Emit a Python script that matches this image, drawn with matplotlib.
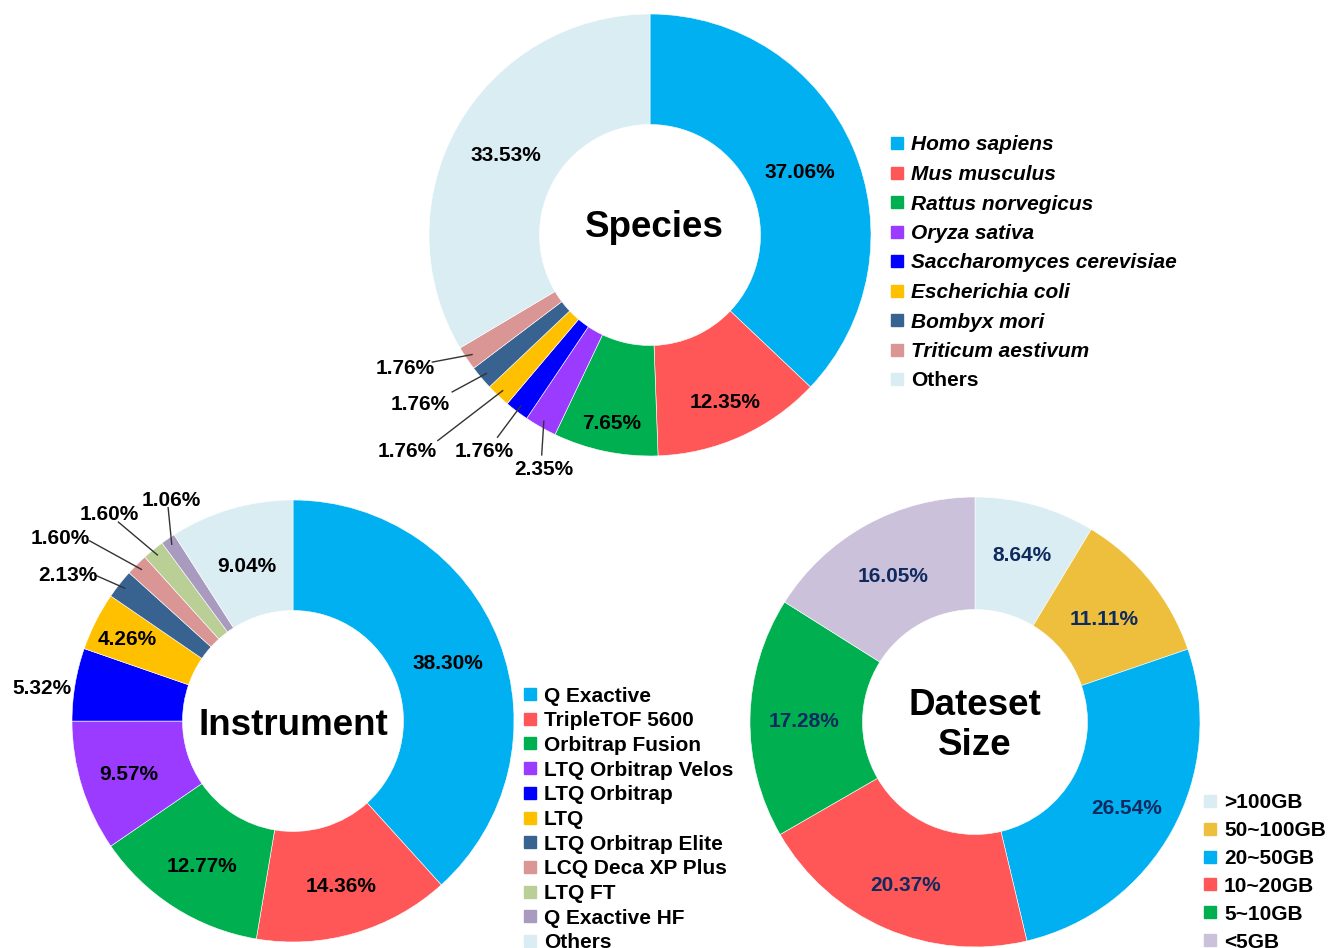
import numpy as np
import matplotlib.pyplot as plt
from matplotlib.patches import Rectangle

plt.rcParams['font.family'] = ['Liberation Sans', 'DejaVu Sans']
plt.rcParams['font.weight'] = 'bold'

W, H = 1331, 948

# ---- data ----
species = ['Homo sapiens', 'Mus musculus', 'Rattus norvegicus', 'Oryza sativa',
           'Saccharomyces cerevisiae', 'Escherichia coli', 'Bombyx mori',
           'Triticum aestivum', 'Others']
species_pct = [37.06, 12.35, 7.65, 2.35, 1.76, 1.76, 1.76, 1.76, 33.53]
species_colors = ['#00B0F0', '#FF5757', '#00B050', '#9B3BFF', '#0000FF',
                  '#FFC000', '#386290', '#D99694', '#DAEDF3']

instruments = ['Q Exactive', 'TripleTOF 5600', 'Orbitrap Fusion', 'LTQ Orbitrap Velos',
               'LTQ Orbitrap', 'LTQ', 'LTQ Orbitrap Elite', 'LCQ Deca XP Plus',
               'LTQ FT', 'Q Exactive HF', 'Others']
instrument_pct = [38.30, 14.36, 12.77, 9.57, 5.32, 4.26, 2.13, 1.60, 1.60, 1.06, 9.04]
instrument_colors = ['#00B0F0', '#FF5757', '#00B050', '#9B3BFF', '#0000FF',
                     '#FFC000', '#386290', '#D99694', '#B9CF96', '#A99BBF', '#DAEDF3']

sizes = ['>100GB', '50~100GB', '20~50GB', '10~20GB', '5~10GB', '<5GB']
size_pct = [8.64, 11.11, 26.54, 20.37, 17.28, 16.05]
size_colors = ['#DAEDF3', '#EDBF3C', '#00B0F0', '#FF5757', '#00B050', '#CCC1DA']

# label radius (inside ring) per slice, None = outside label with leader line
species_lr = [0.74, 0.82, 0.86, None, None, None, None, None, 0.75]
# outside labels: (text x, text y, line end x, line end y) in axis units
species_out = {
    3: (-0.48, -1.05, -0.49, -0.995),
    4: (-0.75, -0.97, -0.69, -0.915),
    5: (-1.10, -0.97, -0.96, -0.93),
    6: (-1.04, -0.755, -0.895, -0.71),
    7: (-1.11, -0.595, -0.985, -0.575),
}
instrument_lr = [0.75, 0.77, 0.77, 0.78, None, 0.84, None, None, None, None, 0.74]
instrument_out = {
    4: (-1.135, 0.16, None, None),
    6: (-1.02, 0.67, -0.895, 0.66),
    7: (-1.055, 0.835, -0.92, 0.815),
    8: (-0.83, 0.945, -0.79, 0.90),
    9: (-0.55, 1.01, -0.565, 0.965),
}
size_lr = [0.78, 0.74, 0.77, 0.78, 0.76, 0.75]


fig = plt.figure(figsize=(W / 100, H / 100), dpi=100)


def donut(cx, cy, r, pct, colors, label_r, outside, titles, txtcolor='black'):
    ax = fig.add_axes([(cx - r) / W, 1 - (cy + r) / H, 2 * r / W, 2 * r / H])
    wedges, _ = ax.pie(pct, colors=colors, startangle=90, counterclock=False,
                       radius=1, wedgeprops=dict(width=0.5, edgecolor='white', linewidth=0.4))
    ax.set_xlim(-1, 1)
    ax.set_ylim(-1, 1)
    ax.axis('off')
    dy = -2.5 / r
    for i, w in enumerate(wedges):
        mid = np.deg2rad((w.theta1 + w.theta2) / 2)
        lbl = '%.2f%%' % pct[i]
        if label_r[i] is not None:
            ax.text(label_r[i] * np.cos(mid), label_r[i] * np.sin(mid) + dy, lbl,
                    ha='center', va='center', fontsize=15, color=txtcolor)
        else:
            tx, ty, lx, ly = outside[i]
            ax.text(tx, ty + dy, lbl, ha='center', va='center', fontsize=15, color=txtcolor)
            if lx is not None:
                ax.plot([0.97 * np.cos(mid), lx], [0.97 * np.sin(mid), ly],
                        color='#333333', lw=1, clip_on=False)
    for t, tx, ty in titles:
        ax.text(tx, ty, t, ha='center', va='baseline', fontsize=26.5)
    return ax


def legend(x, y0, step, labels, colors, italic_n=0, fs=15):
    for i, (lab, c) in enumerate(zip(labels, colors)):
        y = y0 + i * step
        fig.patches.append(Rectangle(((x - 6) / W, 1 - (y + 6) / H), 12 / W, 12 / H,
                                     transform=fig.transFigure, color=c))
        fig.text((x + 14) / W, 1 - (y + 2) / H, lab, ha='left', va='center', fontsize=fs,
                 style='italic' if i < italic_n else 'normal')


donut(650, 235, 221, species_pct, species_colors, species_lr, species_out,
      [('Species', 0.018, -0.01)])
donut(293, 721, 221, instrument_pct, instrument_colors, instrument_lr, instrument_out,
      [('Instrument', 0.0, -0.063)])
donut(975, 722, 225, size_pct, size_colors, size_lr, {},
      [('Dateset', 0.0, 0.031), ('Size', 0.0, -0.147)], txtcolor='#0E2A5E')

legend(897, 143, 29.5, species, species_colors, italic_n=8)
legend(530, 694, 24.7, instruments, instrument_colors)
legend(1210, 801, 27.8, sizes, size_colors)

fig.savefig('out.png', dpi=100)
